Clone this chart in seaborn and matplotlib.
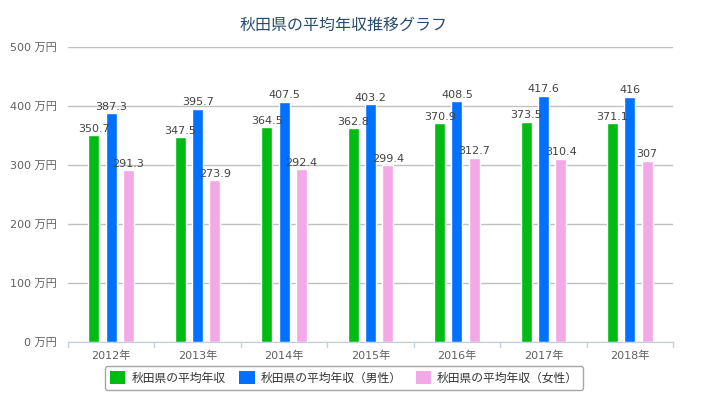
import matplotlib
matplotlib.use("Agg")
import matplotlib.pyplot as plt
import matplotlib.transforms as mtrans
import seaborn as sns
import pandas as pd
from matplotlib.patches import Patch

years = ["2012年", "2013年", "2014年", "2015年", "2016年", "2017年", "2018年"]
series_names = ["秋田県の平均年収", "秋田県の平均年収（男性）", "秋田県の平均年収（女性）"]
avg_all = [350.7, 347.5, 364.5, 362.8, 370.9, 373.5, 371.1]
avg_male = [387.3, 395.7, 407.5, 403.2, 408.5, 417.6, 416]
avg_female = [291.3, 273.9, 292.4, 299.4, 312.7, 310.4, 307]
y_ticks = [0, 100, 200, 300, 400, 500]
colors = ["#00BB11", "#0070FF", "#F2A9E6"]

rows = []
for name, vals in zip(series_names, [avg_all, avg_male, avg_female]):
    for yr, v in zip(years, vals):
        rows.append({"year": yr, "series": name, "value": v})
df = pd.DataFrame(rows)

sns.set_style("white")
plt.rcParams["font.family"] = ["DejaVu Sans", "Noto Sans CJK JP"]

fig = plt.figure(figsize=(7.07, 4.12), dpi=100)
ax = fig.add_axes([68 / 707, 70 / 412, 605 / 707, 295 / 412])

sns.barplot(data=df, x="year", y="value", hue="series", palette=colors,
            width=0.6, gap=0.36, ax=ax, legend=False, saturation=1)

for cont in ax.containers:
    ax.bar_label(cont, fmt="%g", padding=1, fontsize=8, color="#444444")

ax.set_ylim(0, 500)
ax.set_xlim(-0.5, len(years) - 0.5)
ax.set_yticks(y_ticks)
ax.set_yticklabels([f"{t} 万円" for t in y_ticks], fontsize=8, color="#606060")
ax.tick_params(axis="y", length=0, pad=8)
ax.tick_params(axis="x", length=0, labelsize=8, labelcolor="#606060", pad=6)
ax.yaxis.grid(True, color="#C0C0C0", linewidth=1)
ax.set_axisbelow(True)
for s in ["left", "right", "top"]:
    ax.spines[s].set_visible(False)
ax.spines["bottom"].set_color("#C0D0E0")
ax.set_xlabel("")
ax.set_ylabel("")

# category boundary tick marks (5 px below axis)
trans = mtrans.blended_transform_factory(ax.transData, ax.transAxes)
tick_len = 5 / 295
for b in [i - 0.5 for i in range(len(years) + 1)]:
    ax.plot([b, b], [0, -tick_len], color="#C0D0E0", lw=1, clip_on=False, transform=trans)

fig.text(343.5 / 707, 1 - 25 / 412, "秋田県の平均年収推移グラフ", ha="center", va="center",
         fontsize=11.5, color="#274B6D")

handles = [Patch(facecolor=c, edgecolor="none") for c in colors]
leg = fig.legend(handles, series_names, loc="center", bbox_to_anchor=(344 / 707, 1 - 378 / 412),
                 ncol=3, frameon=True, fontsize=8.5, handlelength=1.3, handleheight=1.2,
                 columnspacing=1.2, handletextpad=0.5, borderpad=0.45, fancybox=True,
                 labelcolor="#333333")
leg.get_frame().set_edgecolor("#909090")
leg.get_frame().set_linewidth(1)

fig.savefig("out.png", dpi=100)
